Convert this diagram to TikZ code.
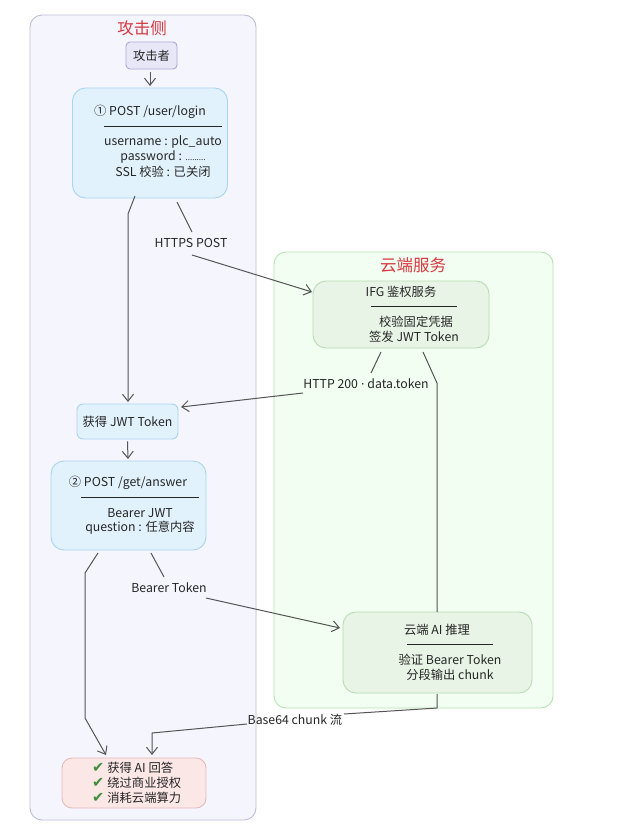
\documentclass[tikz,border=0pt]{standalone}
\usepackage{fontspec}
\setmainfont{Noto Sans CJK SC}
\newfontfamily\dejavu{DejaVu Sans}
\usetikzlibrary{arrows.meta}
\definecolor{clAfill}{HTML}{F5F5FE}
\definecolor{clAline}{HTML}{BDBDD8}
\definecolor{clBfill}{HTML}{F1FEF1}
\definecolor{clBline}{HTML}{B8E2B8}
\definecolor{attfill}{HTML}{E7E7F7}
\definecolor{attline}{HTML}{A9A9D0}
\definecolor{bluefill}{HTML}{E2F2FC}
\definecolor{blueline}{HTML}{A9D4EE}
\definecolor{grnfill}{HTML}{E8F4E6}
\definecolor{grnline}{HTML}{B9DCB5}
\definecolor{pinkfill}{HTML}{FCE7E7}
\definecolor{pinkline}{HTML}{E6B9B9}
\definecolor{titlered}{HTML}{D9383F}
\definecolor{edgecol}{HTML}{555555}
\definecolor{checkgreen}{HTML}{3E8E3A}
\newcommand{\chk}{{\dejavu\fontsize{14.5}{15}\selectfont\color{checkgreen}✔}}
\newcommand{\mdot}{{\dejavu ·}}
\begin{document}
\begin{tikzpicture}[x=1pt,y=-1pt,
  cluster/.style={draw, line width=0.9pt, rounded corners=12pt},
  box/.style={draw, line width=0.9pt, rounded corners=13pt, inner sep=0pt},
  txt/.style={font=\fontsize{12.3}{14}\selectfont, inner sep=0pt, text=black!85},
  lbl/.style={font=\fontsize{12.3}{14}\selectfont, inner sep=0pt, text=black!85},
  ttl/.style={font=\fontsize{16.5}{18}\selectfont, inner sep=0pt, text=titlered},
  edge/.style={draw=edgecol, line width=1pt},
  arr/.style={edge, -{Straight Barb[length=7pt,width=11pt,line width=1pt]}},
  hr/.style={draw=black!85, line width=0.8pt}
]
\useasboundingbox (0,0) rectangle (618,827);
\fill[white] (0,0) rectangle (618,827);

% clusters
\draw[cluster, fill=clAfill, draw=clAline] (30,15) rectangle (256,820);
\node[ttl] (tA) at (142,28) {攻击侧};
\draw[cluster, fill=clBfill, draw=clBline] (274,252) rectangle (553,708);
\node[ttl] (tB) at (413,265) {云端服务};

% nodes
\node[box, fill=attfill, draw=attline, rounded corners=4pt, minimum width=51pt, minimum height=27pt] (att) at (151.5,55.5) {};
\node[txt] at (att.center) {攻击者};

\node[box, fill=bluefill, draw=blueline, minimum width=155pt, minimum height=110pt] (login) at (150,143) {};
\node[txt] at (150,112) {① POST /user/login};
\draw[hr] (104,126) -- (222,126);
\node[txt] at (163,142) {username : plc\_auto};
\node[txt] at (163,157) {password : {\fontsize{8}{9}\selectfont .........}};
\node[txt] at (163,172) {SSL 校验 : 已关闭};

\node[box, fill=grnfill, draw=grnline, minimum width=176pt, minimum height=67pt] (ifg) at (401,314.5) {};
\node[txt] at (401,292) {IFG 鉴权服务};
\draw[hr] (371,306) -- (457,306);
\node[txt] at (416,322) {校验固定凭据};
\node[txt] at (414,337) {签发 JWT Token};

\node[box, fill=bluefill, draw=blueline, rounded corners=6pt, minimum width=101pt, minimum height=35pt] (jwt) at (127.5,421.5) {};
\node[txt] at (jwt.center) {获得 JWT Token};

\node[box, fill=bluefill, draw=blueline, minimum width=155pt, minimum height=89pt] (ans) at (128.5,505.5) {};
\node[txt] at (128,483) {② POST /get/answer};
\draw[hr] (81,497) -- (199,497);
\node[txt] at (140,513) {Bearer JWT};
\node[txt] at (140,528) {question : 任意内容};

\node[box, fill=grnfill, draw=grnline, minimum width=189pt, minimum height=81pt] (ai) at (437.5,652.5) {};
\node[txt] at (437,630) {云端 AI 推理};
\draw[hr] (407,644) -- (493,644);
\node[txt] at (450,660) {验证 Bearer Token};
\node[txt] at (450,675) {分段输出 chunk};

\node[box, fill=pinkfill, draw=pinkline, rounded corners=10pt, minimum width=144pt, minimum height=50pt] (res) at (134,783) {};
\node[txt, anchor=west] at (92,768) {\chk\hspace{3pt}获得 AI 回答};
\node[txt, anchor=west] at (92,783) {\chk\hspace{3pt}绕过商业授权};
\node[txt, anchor=west] at (92,798) {\chk\hspace{3pt}消耗云端算力};

% edge labels
\node[lbl] (l1) at (191,243) {HTTPS POST};
\node[lbl] (l2) at (366,384) {HTTP 200 \mdot\ data.token};
\node[lbl] (l3) at (169,588) {Bearer Token};
\node[lbl] (l4) at (295,720) {Base64 chunk 流};

% connector points
\coordinate (a1) at (135,196);
\coordinate (a2) at (128,214);
\coordinate (b1) at (177,202);
\coordinate (b2) at (192,232);
\coordinate (b3) at (192,255);
\coordinate (c1) at (381,352);
\coordinate (c2) at (371,373);
\coordinate (c3) at (303,393);
\coordinate (d1) at (423,352);
\coordinate (d2) at (437,383);
\coordinate (e1) at (98,553);
\coordinate (e2) at (85,573);
\coordinate (e3) at (85,718);
\coordinate (f1) at (151,553);
\coordinate (f2) at (164,577);
\coordinate (f3) at (206,598);
\coordinate (g1) at (437,694);
\coordinate (g2) at (437,708);
\coordinate (g3) at (344,714);
\coordinate (g4) at (247,724);
\coordinate (g5) at (152,733);

% connectors
\draw[arr] (att.south -| 150,0) ++(0,3) -- (150,86);
\draw[arr] (a1) -- (a2) -- (128,402);
\draw[edge] (b1) -- (b2);
\draw[arr] (b3) -- (312,292);
\draw[edge] (c1) -- (c2);
\draw[arr] (c3) -- (181,407);
\draw[edge] (d1) -- (d2) -- (437,612);
\draw[arr] (jwt.south) ++(0,2) -- (128,459);
\draw[arr] (e1) -- (e2) -- (e3) -- (106,755);
\draw[edge] (f1) -- (f2);
\draw[arr] (f3) -- (340,628);
\draw[edge] (g1) -- (g2) -- (g3);
\draw[arr] (g4) -- (g5) -- (152,755);
\end{tikzpicture}
\end{document}
